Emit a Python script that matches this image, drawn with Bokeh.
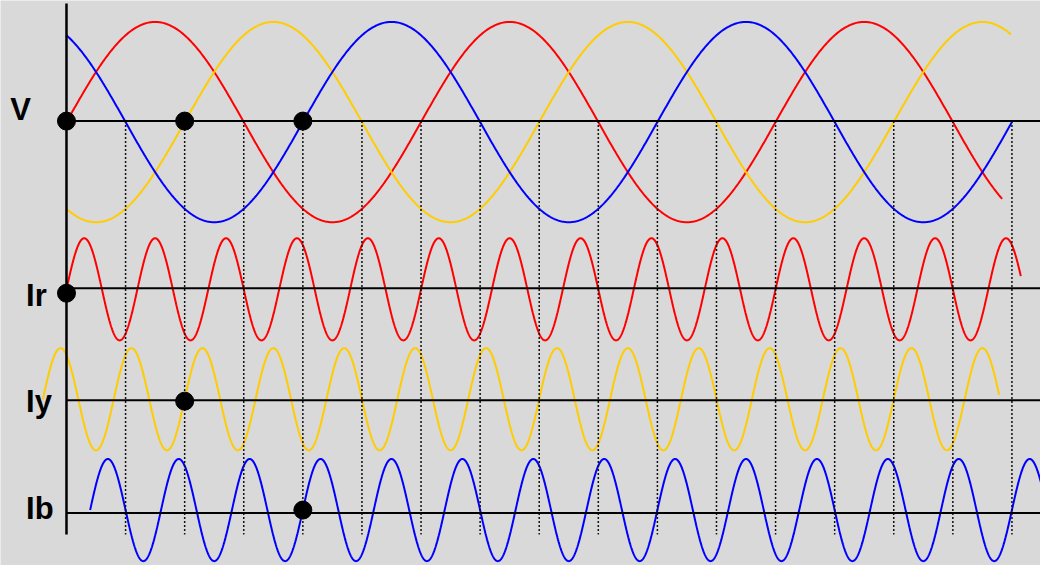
import numpy as np
from bokeh.plotting import figure
from bokeh.models import Range1d
from bokeh.core.properties import value
from bokeh.embed import file_html
from bokeh.resources import INLINE

# ---------------- data ----------------
phase_names = ["R", "Y", "B"]
phase_colors = ["#ff0000", "#ffcc00", "#0000ff"]
phase_shift_deg = [0, -120, -240]          # phase displacement of each phase
voltage_amplitude = 1.0                    # relative
current_amplitude = 0.51                   # relative to voltage
current_harmonic = 5                       # current frequency / voltage frequency
voltage_start_deg = [0, 0, 0]
voltage_end_deg = [950, 959, 960]
current_start_deg = [0, -24, 24]
current_end_deg = [969, 947, 1000]
voltage_dot_deg = [0, 120, 240]            # voltage zero crossings marked
current_dot_deg = [0, 120, 240]            # Ir, Iy, Ib marked crossings
grid_deg = [60, 120, 180, 240, 300, 360, 420, 480, 540, 600, 660, 720,
            780, 840, 900, 960]
row_labels = ["V", "Ir", "Iy", "Ib"]

# ---------------- layout ----------------
W, H = 1040, 565
PX_PER_V = 103.0            # drawing units per unit voltage amplitude


def ry(ref_y):
    """vertical position in the drawing from a row position measured top-down"""
    return 581 - ref_y


row_base = [124, 296, 411, 527]         # baseline rows (top-down)
wave_center = [125, 297, 410, 524]      # centre of each waveform
dot_row = [124, 301, 412, 524]
label_x = [-57, -41, -41, -41]
label_base = [112, 303, 412, 522]

p = figure(width=W, height=H, output_backend="svg", toolbar_location=None,
           x_range=Range1d(-67, 989), y_range=Range1d(0, 581),
           min_border=0, outline_line_color=None,
           background_fill_color="#d9d9d9", border_fill_color="#d9d9d9")
p.xaxis.visible = False
p.yaxis.visible = False
p.xgrid.visible = False
p.ygrid.visible = False

# voltage waves
for i in range(3):
    th = np.arange(voltage_start_deg[i], voltage_end_deg[i] + 0.5, 1.0)
    v = voltage_amplitude * np.sin(np.radians(th + phase_shift_deg[i]))
    p.line(th, ry(wave_center[0]) + v * PX_PER_V, line_color=phase_colors[i],
           line_width=2)

# current waves
for i in range(3):
    th = np.arange(current_start_deg[i], current_end_deg[i] + 0.25, 0.5)
    c = current_amplitude * np.sin(np.radians(current_harmonic * (th + phase_shift_deg[i])))
    p.line(th, ry(wave_center[i + 1]) + c * PX_PER_V, line_color=phase_colors[i],
           line_width=2)

# dotted verticals
p.segment(x0=grid_deg, y0=[ry(124)] * len(grid_deg), x1=grid_deg,
          y1=[ry(549)] * len(grid_deg), line_color="#111111", line_width=1.5,
          line_dash="2 2")

# horizontal base lines
p.segment(x0=[0] * 4, y0=[ry(r) for r in row_base], x1=[1000] * 4,
          y1=[ry(r) for r in row_base], line_color="black", line_width=2)

# vertical axis line
p.segment(x0=[0], y0=[ry(3)], x1=[0], y1=[ry(549)], line_color="black",
          line_width=2.5)

# dots
p.scatter(voltage_dot_deg, [ry(dot_row[0])] * 3, size=18, color="black")
p.scatter(current_dot_deg, [ry(r) for r in dot_row[1:]], size=18, color="black")

# labels
p.text(x=label_x, y=[ry(b) for b in label_base], text=row_labels,
       text_font=value("Liberation Sans"), text_font_style="bold",
       text_font_size="31px", text_color="black", text_baseline="alphabetic",
       text_align="left")

open("out.html", "w").write(file_html(p, INLINE))
